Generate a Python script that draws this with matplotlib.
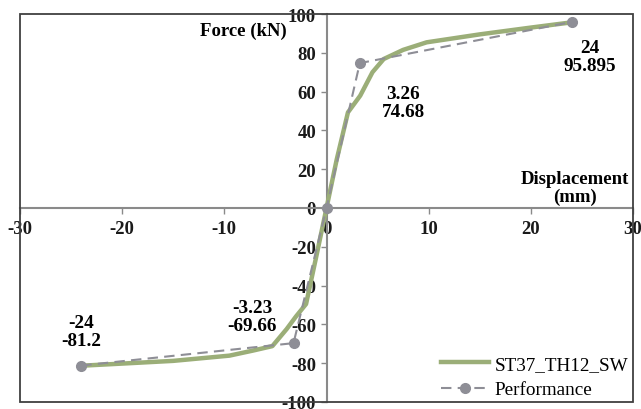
import matplotlib
matplotlib.use("Agg")
import matplotlib.pyplot as plt

# Courbe ST37_TH12_SW
disp_sw = [-24, -20, -15, -9.5, -7.2, -5.3, -3.9, -3.0, -2.0, -1.0, 0, 1.0, 2.1, 3.3, 4.5, 5.6, 7.5, 9.8, 15, 20, 24]
force_sw = [-81.3, -80.2, -78.8, -76.1, -73.5, -71.2, -62.4, -56, -49.5, -25, 0, 25, 49.3, 57.9, 70, 76.8, 81.5, 85.4, 89.5, 93.0, 95.7]

# Courbe de performance
disp_perf = [-24, -3.23, 0, 3.26, 24]
force_perf = [-81.2, -69.66, 0, 74.68, 95.895]

x_ticks = [-30, -20, -10, 0, 10, 20, 30]
y_ticks = [-100, -80, -60, -40, -20, 0, 20, 40, 60, 80, 100]

plt.rcParams['font.family'] = ['Liberation Serif', 'DejaVu Serif']
plt.rcParams['axes.unicode_minus'] = False

fig = plt.figure(figsize=(6.41, 4.10), dpi=100)
ax = fig.add_axes([20/641, 1-403/410, 613/641, 388/410])

ax.plot(disp_sw, force_sw, color='#9bae78', lw=3.2, label='ST37_TH12_SW', zorder=3)
ax.plot(disp_perf, force_perf, color='#8e8e96', lw=1.5, ls=(0, (5, 3)), marker='o',
        ms=7, label='Performance', zorder=4)

ax.set_xlim(-30, 30)
ax.set_ylim(-100, 100)

# axes centrés
ax.spines['left'].set_position(('data', 0))
ax.spines['bottom'].set_position(('data', 0))
ax.spines['left'].set_color('#8a8a8a')
ax.spines['bottom'].set_color('#8a8a8a')
ax.spines['left'].set_linewidth(1.5)
ax.spines['bottom'].set_linewidth(1.5)
ax.spines['top'].set_visible(False)
ax.spines['right'].set_visible(False)

# cadre extérieur
frame = plt.Rectangle((0, 0), 1, 1, transform=ax.transAxes, fill=False,
                      edgecolor='#404040', lw=1.3, clip_on=False, zorder=5)
ax.add_patch(frame)

ax.set_xticks(x_ticks)
ax.set_yticks(y_ticks)
ax.tick_params(axis='both', colors='#8a8a8a', labelcolor='#1a1a1a', labelsize=13.5, length=4, width=1)
ax.tick_params(axis='x', pad=5)
for lab in ax.get_xticklabels() + ax.get_yticklabels():
    lab.set_fontweight('bold')

ax.text(-3.9, 91.7, 'Force (kN)', fontsize=13.5, fontweight='bold', ha='right', va='center')
ax.text(24.3, 10.7, 'Displacement\n(mm)', fontsize=13.5, fontweight='bold', ha='center', va='center',
        linespacing=1.05)

ax.text(25.8, 78.1, '24\n95.895', fontsize=13.8, fontweight='bold', ha='center', va='center', linespacing=1.13)
ax.text(7.5, 54.4, '3.26\n74.68', fontsize=13.8, fontweight='bold', ha='center', va='center', linespacing=1.13)
ax.text(-24, -63.7, '-24\n-81.2', fontsize=13.8, fontweight='bold', ha='center', va='center', linespacing=1.13)
ax.text(-7.3, -55.9, '-3.23\n-69.66', fontsize=13.8, fontweight='bold', ha='center', va='center', linespacing=1.13)

ax.legend(loc='lower right', frameon=False, fontsize=13.8, handlelength=2.5,
          bbox_to_anchor=(1.005, -0.01), borderaxespad=0.0, labelspacing=0.4, handletextpad=0.3)

fig.savefig('out.png', dpi=100)
